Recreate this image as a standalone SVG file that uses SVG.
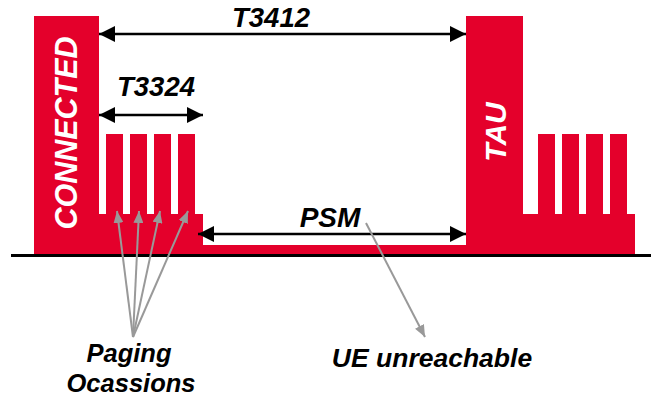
<svg xmlns="http://www.w3.org/2000/svg" width="651" height="396" viewBox="0 0 651 396">
<defs>
<style>
.red{fill:#E4002B}
.lbl{font-family:"Liberation Sans",Arial,sans-serif;font-weight:bold;font-style:italic;fill:#000}
.wt{font-family:"Liberation Sans",Arial,sans-serif;font-weight:bold;font-style:italic;fill:#fff}
.blk{stroke:#000;stroke-width:2.5;fill:none}
.gry{stroke:#999;stroke-width:2;fill:none}
</style>
<marker id="ab" markerUnits="userSpaceOnUse" viewBox="0 0 16 16" refX="16" refY="8" markerWidth="16" markerHeight="16" orient="auto-start-reverse">
<path d="M0,0 L16,8 L0,16 Z" fill="#000"/>
</marker>
<marker id="ag" markerUnits="userSpaceOnUse" viewBox="0 0 12 10" refX="12" refY="5" markerWidth="12" markerHeight="10" orient="auto">
<path d="M0,0 L12,5 L0,10 Z" fill="#999"/>
</marker>
</defs>
<g id="timeline">
<path class="red" d="M34,16 H99 V214 H106 V134 H123 V214 H130 V134 H147 V214 H154 V134 H171 V214 H178 V134 H195 V214 H203 V245 H466 V16 H523 V214 H538 V134 H555 V214 H562 V134 H579 V214 H586 V134 H603 V214 H610 V134 H627 V214 H635 V254 H34 Z"/>
<line x1="11" y1="255.5" x2="651" y2="255.5" stroke="#000" stroke-width="3"/>
</g>
<g id="connected">
<text class="wt" font-size="30.5" text-anchor="middle" transform="translate(77,133) rotate(-90)">CONNECTED</text>
</g>
<g id="tau">
<text class="wt" font-size="30" text-anchor="middle" transform="translate(505.5,132) rotate(-90)">TAU</text>
</g>
<g id="connectors">
<line class="blk" x1="99" y1="34" x2="466" y2="34" marker-start="url(#ab)" marker-end="url(#ab)"/>
<line class="blk" x1="99" y1="115" x2="203" y2="115" marker-start="url(#ab)" marker-end="url(#ab)"/>
<line class="blk" x1="198" y1="234" x2="466" y2="234" marker-start="url(#ab)" marker-end="url(#ab)"/>
<line class="gry" x1="133" y1="337" x2="117" y2="211" marker-end="url(#ag)"/>
<line class="gry" x1="133" y1="337" x2="139" y2="211" marker-end="url(#ag)"/>
<line class="gry" x1="133" y1="337" x2="160" y2="211" marker-end="url(#ag)"/>
<line class="gry" x1="133" y1="337" x2="188" y2="211" marker-end="url(#ag)"/>
<line class="gry" x1="366" y1="223" x2="425" y2="337" marker-end="url(#ag)"/>
</g>
<g id="labels">
<text class="lbl" font-size="27.5" x="271" y="27" text-anchor="middle">T3412</text>
<text class="lbl" font-size="27.5" x="156" y="96" text-anchor="middle">T3324</text>
<text class="lbl" font-size="28" x="330" y="227" text-anchor="middle">PSM</text>
<text class="lbl" font-size="25.5" x="129" y="362" text-anchor="middle">Paging</text>
<text class="lbl" font-size="25.5" x="131" y="392" text-anchor="middle">Ocassions</text>
<text class="lbl" font-size="26.5" x="432" y="367" text-anchor="middle">UE unreachable</text>
</g>
</svg>
